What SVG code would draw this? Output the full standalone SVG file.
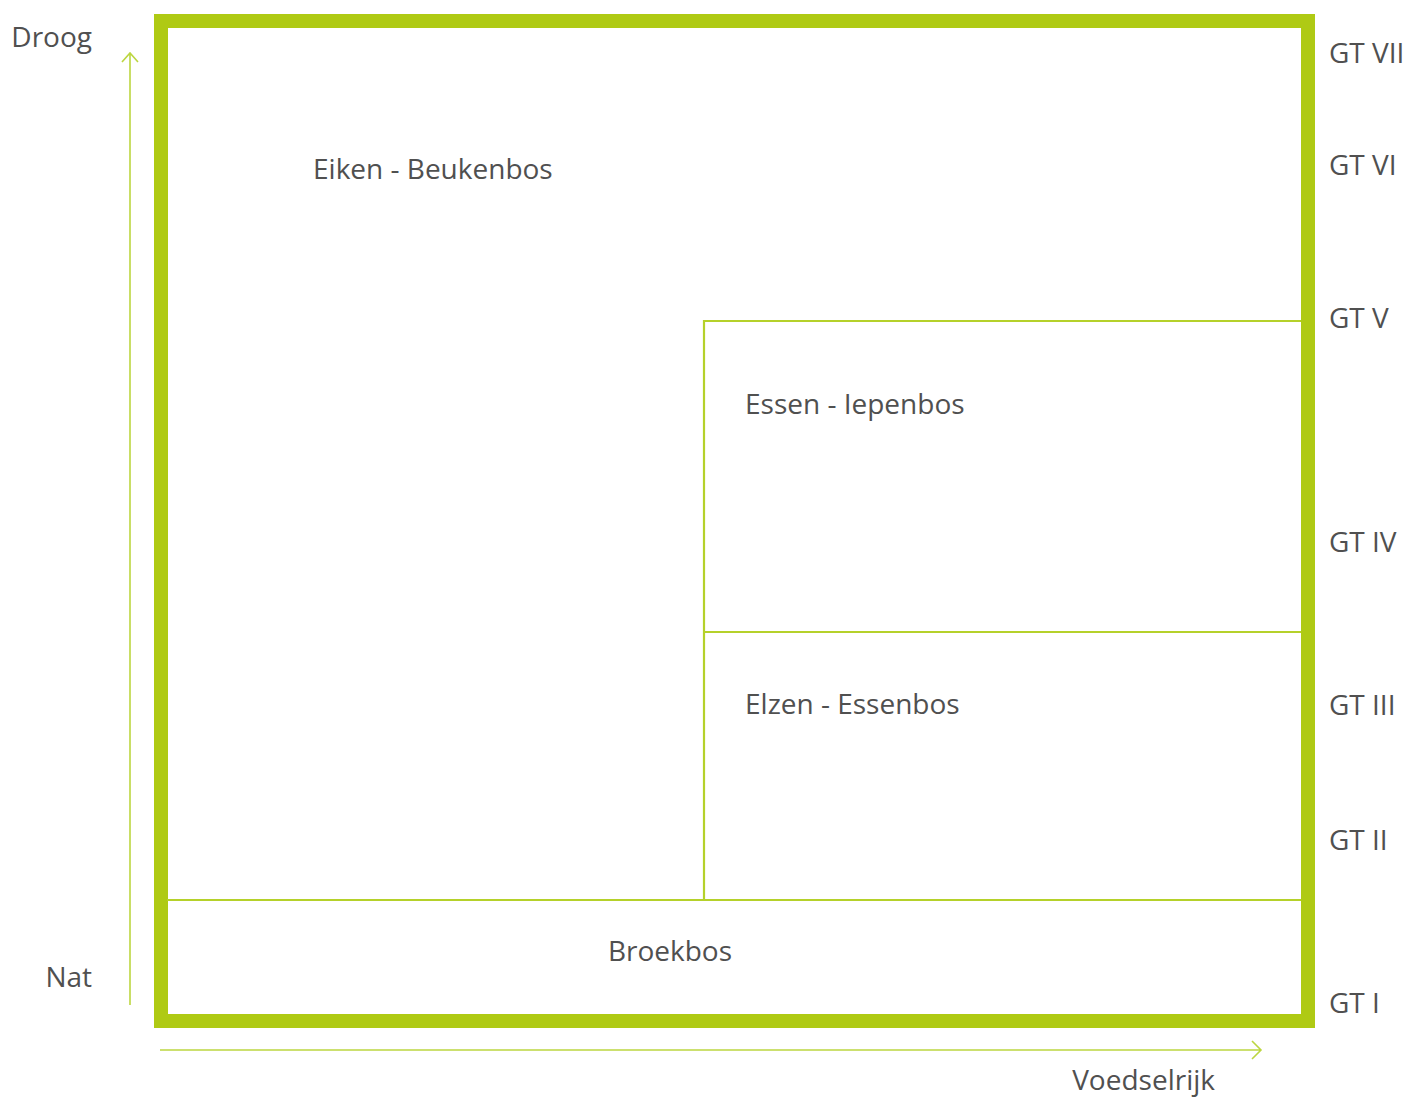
<svg xmlns="http://www.w3.org/2000/svg" width="1405" height="1097" viewBox="0 0 1405 1097">
<style>
text{font-family:"Open Sans","Liberation Sans",sans-serif;font-size:28px;fill:#505050}
.frame{fill:none;stroke:#afca14;stroke-width:14}
.div{fill:none;stroke:#b5d12a;stroke-width:2.2}
.axis{fill:none;stroke:#bcd640;stroke-width:1.6}
</style>
<rect width="1405" height="1097" fill="#ffffff"/>
<g id="frame"><rect class="frame" x="161" y="21" width="1147" height="1000"/></g>
<g id="connectors">
<path class="div" d="M167 900H1301M704 900V321H1301M704 632H1301"/>
<path class="axis" d="M130 1005V53M122 62L130 53L138 62"/>
<path class="axis" d="M160 1050H1261M1252 1041L1261 1050L1252 1059"/>
</g>
<g id="eiken"><text x="313" y="179">Eiken - Beukenbos</text></g>
<g id="essen"><text x="745" y="414">Essen - Iepenbos</text></g>
<g id="elzen"><text x="745" y="714">Elzen - Essenbos</text></g>
<g id="broek"><text x="670" y="961" text-anchor="middle">Broekbos</text></g>
<g id="axes-labels">
<text x="92" y="47" text-anchor="end">Droog</text>
<text x="92" y="987" text-anchor="end">Nat</text>
<text x="1215" y="1090" text-anchor="end">Voedselrijk</text>
</g>
<g id="gt">
<text x="1329" y="63">GT VII</text>
<text x="1329" y="175">GT VI</text>
<text x="1329" y="328">GT V</text>
<text x="1329" y="552">GT IV</text>
<text x="1329" y="715">GT III</text>
<text x="1329" y="850">GT II</text>
<text x="1329" y="1013">GT I</text>
</g>
</svg>
